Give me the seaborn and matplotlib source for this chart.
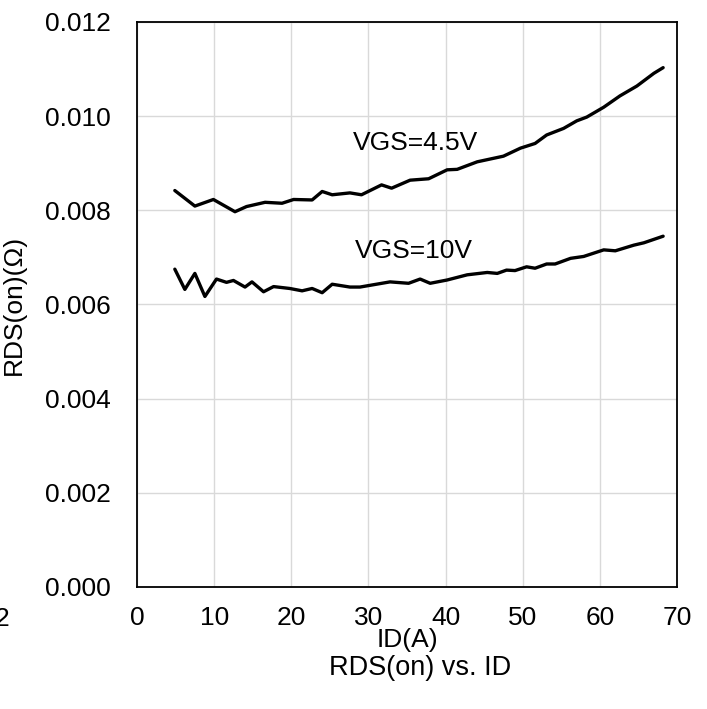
import numpy as np
import pandas as pd
import matplotlib
matplotlib.use("Agg")
import matplotlib.pyplot as plt
import seaborn as sns

# RDS(on) vs ID
id_45 = [4.9, 7.5, 9.9, 12.7, 14.2, 16.6, 18.8, 20.3, 22.7, 24.0, 25.3, 27.6,
         29.1, 31.7, 33.0, 35.4, 37.8, 40.2, 41.5, 44.1, 47.5, 49.7, 51.6,
         53.1, 55.3, 57.0, 58.3, 60.5, 62.6, 64.8, 67.0, 68.2]
rds_45 = [0.00842, 0.00809, 0.00823, 0.00797, 0.00808, 0.00817, 0.00815,
          0.00823, 0.00822, 0.00840, 0.00833, 0.00837, 0.00833, 0.00854,
          0.00847, 0.00864, 0.00867, 0.00886, 0.00887, 0.00903, 0.00915,
          0.00932, 0.00942, 0.00960, 0.00974, 0.00990, 0.00998, 0.01019,
          0.01043, 0.01064, 0.01091, 0.01103]

id_10 = [4.9, 6.2, 7.5, 8.8, 10.3, 11.6, 12.5, 14.0, 14.9, 16.4, 17.7, 19.8,
         21.4, 22.7, 24.0, 25.3, 27.6, 28.9, 32.8, 35.2, 36.7, 38.0, 40.2,
         42.8, 45.4, 46.7, 47.9, 49.0, 50.5, 51.6, 53.1, 54.2, 56.2, 57.9,
         60.5, 62.0, 64.4, 65.7, 68.2]
rds_10 = [0.00675, 0.00632, 0.00666, 0.00617, 0.00654, 0.00647, 0.00651,
          0.00637, 0.00648, 0.00627, 0.00638, 0.00634, 0.00629, 0.00634,
          0.00625, 0.00643, 0.00637, 0.00637, 0.00648, 0.00645, 0.00654,
          0.00645, 0.00652, 0.00663, 0.00668, 0.00666, 0.00673, 0.00672,
          0.00680, 0.00677, 0.00686, 0.00686, 0.00698, 0.00702, 0.00716,
          0.00714, 0.00726, 0.00731, 0.00745]

x_ticks = [0, 10, 20, 30, 40, 50, 60, 70]
y_ticks = [0.000, 0.002, 0.004, 0.006, 0.008, 0.010, 0.012]

df = pd.concat([
    pd.DataFrame({"ID": id_45, "RDS": rds_45, "VGS": "VGS=4.5V"}),
    pd.DataFrame({"ID": id_10, "RDS": rds_10, "VGS": "VGS=10V"}),
])

sns.set_theme(style="whitegrid")
plt.rcParams['font.family'] = ['Liberation Sans', 'DejaVu Sans']
plt.rcParams['text.color'] = 'black'

fig = plt.figure(figsize=(7.07, 7.09), dpi=100)
ax = fig.add_axes([0.1938, 0.1721, 0.7638, 0.7969])

sns.lineplot(data=df, x="ID", y="RDS", units="VGS", estimator=None,
             color="black", linewidth=2.4, legend=False, ax=ax)

ax.set_xlim(0, 70)
ax.set_ylim(0, 0.012)
ax.set_xticks(x_ticks)
ax.set_yticks(y_ticks)
ax.set_yticklabels([f"{v:.3f}" for v in y_ticks])
ax.grid(True, color="#d9d9d9", linewidth=1.0)
ax.tick_params(axis="both", length=0, labelsize=19, colors="black")
ax.tick_params(axis="y", pad=19)
ax.tick_params(axis="x", pad=14)
for s in ax.spines.values():
    s.set_color("black")
    s.set_linewidth(1.3)

ax.set_xlabel("ID(A)", fontsize=19, color="black")
ax.xaxis.set_label_coords(0.5, -0.072)
ax.set_ylabel("RDS(on)(Ω)", fontsize=19, color="black")
ax.yaxis.set_label_coords(-0.205, 0.5)

ax.text(28.0, 0.00943, "VGS=4.5V", fontsize=19, va="center", ha="left")
ax.text(28.2, 0.00714, "VGS=10V", fontsize=19, va="center", ha="left")

fig.text(420 / 707, 1 - 668 / 709, "RDS(on) vs. ID", fontsize=19.5,
         ha="center", va="center")
fig.text(9 / 707, 1 - 619 / 709, "2", fontsize=19, ha="right", va="center")

fig.savefig("out.png", dpi=100)
